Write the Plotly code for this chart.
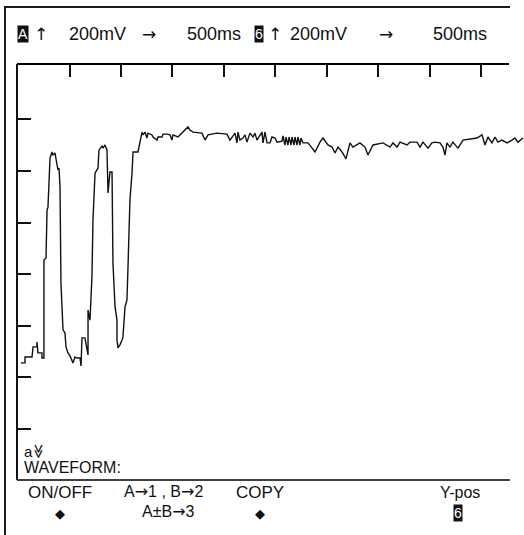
import plotly.graph_objects as go

# Waveform data: time (ms) and voltage (mV), 500 ms/div, 200 mV/div
time_ms = [29, 68, 68, 136, 146, 184, 184, 194, 233, 233, 252, 252, 272, 282, 291, 311, 330, 340, 359, 379,
           388, 398, 408, 417, 437, 456, 466, 485, 505, 534, 553, 573, 602, 612, 621, 650, 660, 670, 680, 680,
           699, 718, 728, 748, 767, 777, 786, 816, 825, 845, 864, 874, 893, 913, 922, 942, 961, 961, 971, 990,
           1010, 1019, 1039, 1058, 1068, 1087, 1107, 1117, 1165, 1184, 1204, 1214, 1233, 1252, 1262, 1301, 1311,
           1350, 1359, 1398, 1408, 1447, 1476, 1495, 1505, 1553, 1602, 1650, 1670, 1699, 1786, 1816, 1845, 1932,
           2029, 2058, 2107, 2126, 2136, 2155, 2184, 2204, 2223, 2252, 2282, 2301, 2320, 2369, 2379, 2398, 2418,
           2447, 2466, 2495, 2515, 2563, 2573, 2592, 2602, 2621, 2631, 2651, 2660, 2680, 2689, 2709, 2718, 2738,
           2748, 2767, 2816, 2884, 2932, 2961, 3010, 3049, 3078, 3107, 3146, 3185, 3223, 3252, 3320, 3369, 3398,
           3447, 3544, 3612, 3641, 3680, 3709, 3777, 3806, 3874, 3903, 3932, 3981, 4019, 4049, 4097, 4126, 4146,
           4165, 4194, 4223, 4272, 4321, 4388, 4456, 4505, 4534, 4563, 4602, 4631, 4660, 4699, 4748, 4796, 4825,
           4854, 4903]
volt_mV = [256, 256, 279, 279, 318, 318, 337, 295, 295, 275, 275, 655, 663, 849, 860, 1050, 1074, 1062, 1070, 1016,
           1004, 1012, 938, 566, 384, 372, 318, 295, 283, 256, 279, 275, 275, 244, 353, 353, 326, 318, 287, 461,
           422, 589, 810, 992, 1004, 1012, 1081, 1097, 1089, 1101, 1081, 915, 996, 996, 643, 473, 422, 345, 314, 326,
           345, 357, 473, 500, 628, 888, 992, 1074, 1074, 1109, 1151, 1140, 1151, 1128, 1147, 1140, 1132,
           1120, 1132, 1132, 1143, 1143, 1140, 1120, 1140, 1132, 1151, 1171, 1159, 1151, 1147, 1120, 1140, 1147,
           1143, 1120, 1147, 1109, 1151, 1120, 1128, 1140, 1112, 1147, 1132, 1147, 1120, 1151, 1109, 1151, 1109,
           1109, 1132, 1128, 1112, 1116, 1136, 1101, 1132, 1101, 1132, 1101, 1132, 1101, 1132, 1101, 1132, 1101,
           1128, 1109, 1109, 1074, 1112, 1128, 1101, 1093, 1070, 1093, 1074, 1047, 1109, 1093, 1109, 1093, 1062,
           1101, 1109, 1093, 1109, 1093, 1112, 1101, 1112, 1112, 1093, 1112, 1089, 1109, 1112, 1109, 1093, 1062,
           1109, 1093, 1112, 1089, 1120, 1124, 1128, 1140, 1101, 1132, 1109, 1132, 1112, 1120, 1109, 1120, 1128,
           1112, 1128]

x_ticks = [500, 1000, 1500, 2000, 2500, 3000, 3500, 4000, 4500]
y_ticks = [0, 200, 400, 600, 800, 1000, 1200]

W, H = 524, 535
def px(x):
    return x / W
def py(y):
    return 1 - y / H

FONT = "Liberation Sans, Arial, Helvetica, sans-serif"
SYM = "DejaVu Sans"

def sym(s):
    return f'<span style="font-family:{SYM};">{s}</span>'

fig = go.Figure()
fig.add_trace(go.Scatter(x=time_ms, y=volt_mV, mode="lines",
                         line=dict(color="#111111", width=1.4), hoverinfo="skip"))
# empty trace on a second pair of axes, whose lines draw the page edge
fig.add_trace(go.Scatter(x=[], y=[], xaxis="x2", yaxis="y2", showlegend=False, hoverinfo="skip"))

fig.update_layout(
    width=W, height=H, margin=dict(l=0, r=0, t=0, b=0, autoexpand=False),
    paper_bgcolor="white", plot_bgcolor="rgba(0,0,0,0)", showlegend=False,
    xaxis=dict(domain=[px(18), 1], range=[0, 4913], side="top", tickvals=x_ticks,
               ticks="inside", ticklen=13, tickwidth=1.6, tickcolor="#111111",
               showticklabels=False, showgrid=False, zeroline=False, showline=False, fixedrange=True),
    yaxis=dict(domain=[py(480), py(64)], range=[-198, 1415], tickvals=y_ticks,
               ticks="inside", ticklen=13, tickwidth=1.6, tickcolor="#111111",
               showticklabels=False, showgrid=False, zeroline=False,
               showline=True, linewidth=2, linecolor="#111111", fixedrange=True),
    xaxis2=dict(domain=[px(6), px(510)], anchor="y2", side="top", range=[0, 1],
                showline=True, linewidth=1.6, linecolor="#1a1a1a", ticks="",
                showticklabels=False, showgrid=False, zeroline=False, fixedrange=True),
    yaxis2=dict(domain=[0, py(8)], anchor="x2", side="left", range=[0, 1],
                showline=True, linewidth=1.8, linecolor="#1a1a1a", ticks="",
                showticklabels=False, showgrid=False, zeroline=False, fixedrange=True),
    shapes=[
        # plot frame top and bottom
        dict(type="line", xref="paper", yref="paper", x0=px(17), x1=px(509), y0=py(64), y1=py(64),
             line=dict(color="black", width=2)),
        dict(type="line", xref="paper", yref="paper", x0=px(17), x1=px(510), y0=py(480), y1=py(480),
             line=dict(color="black", width=1.6)),
    ],
)

def text(s, x, y, size=17, color="#111111", bg=None, angle=0, xanchor="center", family=FONT):
    fig.add_annotation(text=s, xref="paper", yref="paper", x=px(x), y=py(y),
                       xanchor=xanchor, yanchor="middle", showarrow=False, textangle=angle,
                       font=dict(family=family, size=size, color=color),
                       bgcolor=bg, borderpad=0)

# header
text("A", 22.5, 34, size=14, color="white", bg="#111111")
text("↑", 41, 34, size=17, family=SYM)
text("200mV", 97, 34, size=18)
text("→", 149, 34, size=17, family=SYM)
text("500ms", 214, 34, size=18)
text("6", 258.5, 34, size=14, color="white", bg="#111111")
text("↑", 275, 34, size=17, family=SYM)
text("200mV", 318, 34, size=18)
text("→", 386, 34, size=17, family=SYM)
text("500ms", 460, 34, size=18)

# lower labels
text("a", 28, 451, size=15)
text("≫", 39, 451, size=14, angle=90, family=SYM)
text("WAVEFORM:", 23, 467, size=16, xanchor="left")

text("ON/OFF", 60, 492, size=17)
text("◆", 60, 513, size=13, family=SYM)
text("A" + sym("→") + "1 , B" + sym("→") + "2", 163, 491, size=16)
text("A±B" + sym("→") + "3", 168, 511, size=16)
text("COPY", 260, 492, size=17)
text("◆", 260, 513, size=13, family=SYM)
text("Y-pos", 460, 492, size=16)
text("6", 458, 513, size=14, color="white", bg="#111111")

fig.write_html("out.html", config={"displayModeBar": False},
               post_script="document.body.style.margin='0';document.body.style.overflow='hidden';")
